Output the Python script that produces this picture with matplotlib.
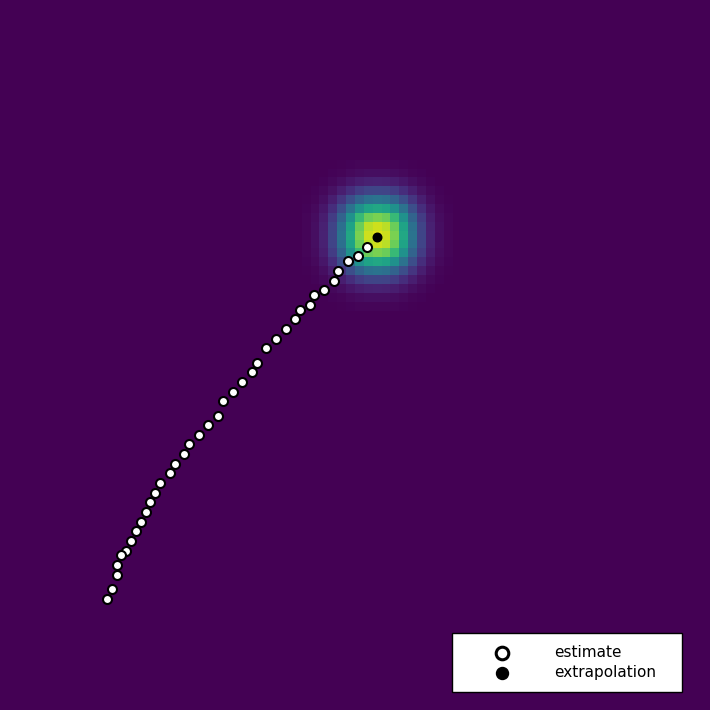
import matplotlib
matplotlib.use('Agg')
import matplotlib.pyplot as plt
import numpy as np

# grid of the heat map (cells), blob peak cell
n_cells = 80
peak_col = 42
peak_row = 26
# intensity profile across the blob (one row/column through the peak)
blob_profile = [0.015, 0.040, 0.100, 0.220, 0.400, 0.630, 0.840, 0.970, 1.0,
                0.970, 0.840, 0.630, 0.400, 0.220, 0.100, 0.040, 0.015]
# colour scale top
heat_max = 1.05

# estimate trail (x, y in cell units, y pointing down)
est_x = [41.39, 40.30, 39.21, 38.12, 37.60, 36.51, 35.41, 34.90, 33.80, 33.27,
         32.19, 31.10, 30.01, 28.92, 28.36, 27.27, 26.22, 25.13, 24.56, 23.47,
         22.39, 21.30, 20.77, 19.68, 19.12, 18.03, 17.50, 16.94, 16.42, 15.85,
         15.32, 14.76, 14.23, 13.67, 13.15, 13.15, 12.62, 12.06]
est_y = [27.80, 28.88, 29.44, 30.54, 31.63, 32.71, 33.24, 34.33, 34.90, 35.98,
         37.07, 38.16, 39.25, 40.87, 41.95, 43.04, 44.14, 45.22, 46.84, 47.92,
         48.98, 50.06, 51.15, 52.25, 53.33, 54.42, 55.52, 56.60, 57.69, 58.78,
         59.83, 60.92, 62.05, 62.57, 63.66, 64.75, 66.37, 67.46]

# extrapolated point
ext_x = [42.48]
ext_y = [26.67]

# build the heat map
heat = np.zeros((n_cells, n_cells))
patch = np.outer(blob_profile, blob_profile)
h = len(blob_profile) // 2
heat[peak_row - h:peak_row + h + 1, peak_col - h:peak_col + h + 1] = patch

fig = plt.figure(figsize=(7.1, 7.1), dpi=100)
ax = fig.add_axes([0, 0, 1, 1])
ax.imshow(heat, cmap='viridis', vmin=0, vmax=heat_max, interpolation='nearest',
          extent=[0, n_cells, n_cells, 0])
ax.scatter(est_x, est_y, s=42, facecolor='white', edgecolor='black', linewidth=1.5,
           label='estimate', zorder=3)
ax.scatter(ext_x, ext_y, s=38, color='black', label='extrapolation', zorder=4)
ax.set_xlim(0, n_cells)
ax.set_ylim(n_cells, 0)
ax.axis('off')

leg = ax.legend(loc='lower left', mode='expand', bbox_to_anchor=(0.6366, 0.0254, 0.324, 0.083),
                fontsize=11, markerscale=1.4, handlelength=5, handletextpad=0.9,
                borderpad=0.8, labelspacing=0.3, borderaxespad=0,
                fancybox=False, framealpha=1, edgecolor='black')
leg.get_frame().set_linewidth(1.0)
leg.legend_handles[0].set_linewidth(2.2)

fig.savefig('out.png', dpi=100)
